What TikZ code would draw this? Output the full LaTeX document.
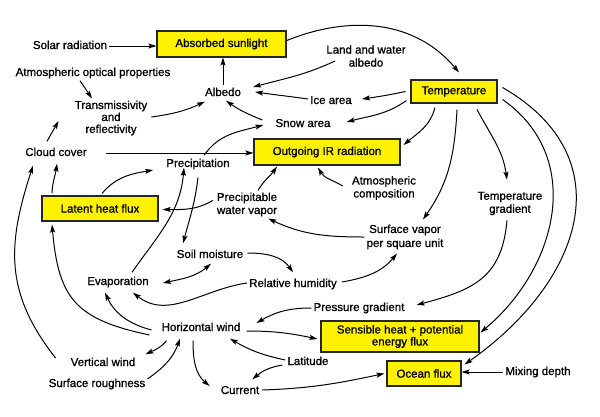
\documentclass[tikz,border=0pt]{standalone}
\usepackage{fontspec}
\setmainfont{Liberation Sans}[FakeBold=1]
\usetikzlibrary{arrows.meta}
\tikzset{mytip/.tip={Stealth[length=8pt,width=5pt,inset=1.5pt]}}
\begin{document}
\begin{tikzpicture}[x=1pt,y=-1pt,
  every node/.style={font=\fontsize{11.5}{13}\selectfont},
  lbl/.style={inner sep=2pt, text height=8.5pt, text depth=2.5pt},
  mlbl/.style={inner sep=2pt, align=center},
  box/.style={draw=black!85, line width=1.1pt, fill=yellow, inner sep=0pt, align=center},
  arr/.style={line width=1pt, -mytip},
  arrtwo/.style={line width=1pt, mytip-mytip},
]
\fill[white] (0,0) rectangle (600,416);
\useasboundingbox (0,0) rectangle (600,416);

% nodes
\node[box,minimum width=129pt,minimum height=26pt] (abs) at (221.5,44) {Absorbed sunlight};
\node[lbl] (solar) at (70,46) {Solar radiation};
\node[lbl] (aop) at (93,73) {Atmospheric optical properties};
\node[mlbl,font=\fontsize{11.5}{12}\selectfont] (trans) at (111,118) {Transmissivity\\and\\reflectivity};
\node[lbl] (albedo) at (223,93) {Albedo};
\node[mlbl] (law) at (366,56) {Land and water\\albedo};
\node[lbl] (ice) at (331,101) {Ice area};
\node[box,minimum width=86pt,minimum height=23pt] (temp) at (454,91.5) {Temperature};
\node[lbl] (snow) at (303,124) {Snow area};
\node[box,minimum width=146pt,minimum height=26pt] (ir) at (327,152) {Outgoing IR radiation};
\node[lbl] (cloud) at (56,153) {Cloud cover};
\node[lbl] (prec) at (198,164) {Precipitation};
\node[box,minimum width=116pt,minimum height=25pt] (latent) at (100,208.5) {Latent heat flux};
\node[mlbl] (pwv) at (247,204.5) {Precipitable\\water vapor};
\node[mlbl] (acomp) at (384,188) {Atmospheric\\composition};
\node[mlbl] (tgrad) at (510,203.5) {Temperature\\gradient};
\node[mlbl,font=\fontsize{11.5}{14}\selectfont] (surfv) at (405,237) {Surface vapor\\per square unit};
\node[lbl] (soil) at (210,255) {Soil moisture};
\node[lbl] (evap) at (118,282) {Evaporation};
\node[lbl] (rh) at (293,284) {Relative humidity};
\node[lbl] (pgrad) at (359,308) {Pressure gradient};
\node[lbl] (hwind) at (201,328) {Horizontal wind};
\node[box,minimum width=158pt,minimum height=31pt,font=\fontsize{11.5}{12}\selectfont] (sens) at (400,336.5) {Sensible heat + potential\\energy flux};
\node[lbl] (lat) at (308,362) {Latitude};
\node[lbl] (current) at (240,391) {Current};
\node[box,minimum width=74pt,minimum height=25pt] (ocean) at (424,373.5) {Ocean flux};
\node[lbl] (mix) at (538,372) {Mixing depth};
\node[lbl] (vwind) at (103,363) {Vertical wind};
\node[lbl] (sr) at (97,384) {Surface roughness};

% connectors
\draw[arr] (solar) -- (solar -| abs.west);
\draw[arr] (albedo) -- (albedo |- abs.south);
\draw[arr] (abs.3) to[out=22,in=130] ([shift={(5,-7)}]temp.north);
\draw[arr] ([shift={(-13,0)}]aop.south) -- ([shift={(-19,0)}]trans.north);
\draw[arr] ([shift={(2,-1)}]trans.east) to[out=8,in=205] ([shift={(2,1)}]albedo.south west);
\draw[arr] ([shift={(11,-8)}]law.south west) to[out=205,in=15] ([shift={(10,-6)}]albedo.east);
\draw[arr] ([shift={(0,-2)}]ice.west) to[out=172,in=-8] ([shift={(12,-1)}]albedo.east);
\draw[arr] ([shift={(-5,0)}]temp.west) to[out=192,in=8] ([shift={(8,-2)}]ice.east);
\draw[arr] ([shift={(-4,-3)}]temp.south west) to[out=215,in=15] ([shift={(14,-2)}]snow.east);
\draw[arr] ([shift={(-11,-4)}]snow.west) to[out=158,in=-35] ([shift={(3,0)}]albedo.south);
\draw[arr] ([shift={(6,-1)}]prec.north) to[out=55,in=195] ([shift={(-10,1)}]snow.west);
\draw[arr] ([xshift=17pt]cloud.east) -- (cloud.east -| ir.west);
\draw[arr] ([shift={(-9,-4)}]cloud.north) -- ([shift={(-14,3)}]trans.west);
\draw[arr] ([shift={(-19,4)}]temp.south) to[out=-105,in=40] ([shift={(3,-7)}]ir.east);
\draw[arr] ([shift={(-7,-2)}]acomp.west) to[out=150,in=-60] ([shift={(-9,2)}]ir.south);
\draw[arr] ([shift={(11,0)}]pwv.north) to[out=60,in=235] ([shift={(-50,1)}]ir.south);
\draw[arr] ([shift={(-2,-4)}]pwv.west) to[out=210,in=0] ([shift={(4,1)}]latent.east);
\draw[arr] ([shift={(2,-2)}]latent.north) to[out=50,in=190] ([shift={(-11,6)}]prec.west);
\draw[arr] ([shift={(-48,-2)}]latent.north) to[out=88,in=-98] ([shift={(1,3)}]cloud.south);
\draw[arr] ([shift={(-13,-5)}]vwind.west) to[out=128,in=-108,looseness=1.1] ([shift={(-23,5)}]cloud.south);
\draw[arr] ([shift={(-10,7)}]hwind.west) to[out=168,in=-85,looseness=1.3] ([shift={(-48,3)}]latent.south);
\draw[arr] ([shift={(-8,2)}]hwind.west) to[out=165,in=-65] ([shift={(-13,3)}]evap.south);
\draw[arr] ([shift={(14,-2)}]evap.north) to[out=55,in=-95] ([shift={(-14,-4)}]prec.south);
\draw[arr] ([shift={(0,6)}]prec.south) to[out=-97,in=75] ([shift={(-27,-4)}]soil.north);
\draw[arrtwo] ([shift={(12,1)}]evap.east) to[out=12,in=220] ([shift={(1,1)}]soil.south);
\draw[arr] ([shift={(2,-2)}]soil.east) to[out=0,in=125] ([shift={(0,-4)}]rh.north);
\draw[arr] ([shift={(0,-1)}]rh.west) to[out=188,in=-38] ([shift={(15,3)}]evap.south);
\draw[arr] ([shift={(3,-2)}]rh.east) to[out=10,in=230] ([shift={(-8,2)}]surfv.south);
\draw[arr] (surfv.west) to[out=180,in=-25] ([shift={(-11,0)}]pwv.south east);
\draw[arr] ([shift={(3,6)}]temp.south) to[out=-93,in=55] ([shift={(18,-3)}]surfv.north);
\draw[arr] ([shift={(23,6)}]temp.south) to[out=-62,in=98] ([shift={(-3,-10)}]tgrad.north);
\draw[arr] ([shift={(-3,3)}]tgrad.south) to[out=-95,in=15,looseness=1.2] ([shift={(10,-3)}]pgrad.east);
\draw[arr] (pgrad.west) to[out=180,in=30] ([shift={(14,-5)}]hwind.east);
\draw[arr] ([shift={(4,3)}]hwind.east) to[out=0,in=168] ([shift={(-3,2.5)}]sens.west);
\draw[arr] ([shift={(0,-2)}]lat.west) to[out=168,in=-30] ([shift={(29,3)}]hwind.south);
\draw[arr] ([shift={(-3,3)}]lat.west) to[out=190,in=40] ([shift={(-9,-4)}]current.north east);
\draw[arr] ([shift={(-8,5)}]hwind.south) to[out=-90,in=140] ([shift={(-9,-5)}]current.west);
\draw[arr] ([shift={(1,-1)}]current.east) to[out=2,in=192] ([shift={(-2,0)}]ocean.west);
\draw[arr] (mix) -- (mix -| ocean.east);
\draw[arr] ([shift={(5,8)}]temp.east) to[out=-35,in=40,looseness=1.1] ([shift={(1,-4)}]sens.east);
\draw[arr] ([shift={(5,-4)}]temp.east) to[out=-30,in=35,looseness=1.3] ([shift={(3,4)}]ocean.north east);
\draw[arr] ([shift={(7,5)}]hwind.south west) to[out=-130,in=25] ([shift={(8,-1)}]vwind.north east);
\draw[arr] ([shift={(0,-5)}]sr.east) to[out=35,in=-110] ([shift={(-21,3)}]hwind.south);
\end{tikzpicture}
\end{document}
